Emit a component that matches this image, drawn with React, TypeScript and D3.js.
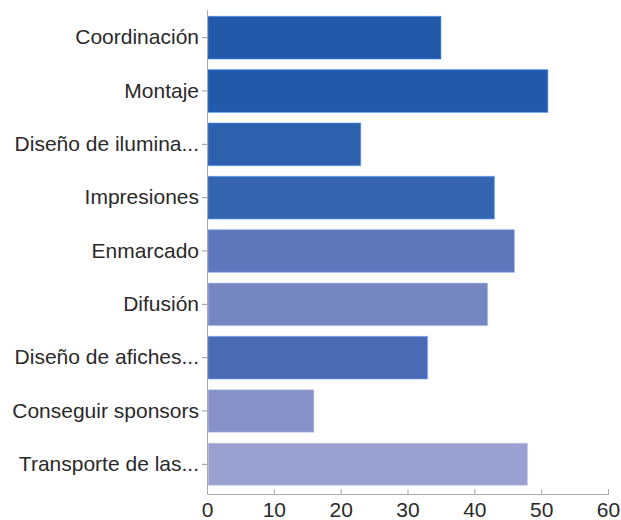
import React, { useRef, useEffect } from 'react';
import * as d3 from 'd3';

const categories = [
  'Coordinación',
  'Montaje',
  'Diseño de ilumina...',
  'Impresiones',
  'Enmarcado',
  'Difusión',
  'Diseño de afiches...',
  'Conseguir sponsors',
  'Transporte de las...',
];
const values = [35, 51, 23, 43, 46, 42, 33, 16, 48];
const barColors = [
  '#2359a8',
  '#2259a8',
  '#2e61ad',
  '#3565b0',
  '#5e77bb',
  '#7686c1',
  '#4a6bb3',
  '#8791c7',
  '#9aa1d1',
];
const xTicks = [0, 10, 20, 30, 40, 50, 60];

const App: React.FC = () => {
  const ref = useRef<SVGSVGElement | null>(null);

  useEffect(() => {
    if (!ref.current) return;
    const svg = d3.select(ref.current);
    svg.selectAll('*').remove();

    const width = 621;
    const height = 520;
    const left = 207;
    const right = 608;
    const axisY = 494;
    const font = '"Liberation Sans", Arial, Helvetica, sans-serif';

    const x = d3.scaleLinear().domain([0, 60]).range([left, right]);
    const y = d3.scaleBand<string>()
      .domain(categories)
      .range([11, 491])
      .paddingInner(0.2)
      .paddingOuter(0.1);

    // Bars
    svg.append('g')
      .selectAll('rect')
      .data(categories)
      .enter()
      .append('rect')
      .attr('x', x(0) + 1)
      .attr('y', d => y(d) as number)
      .attr('width', (d, i) => x(values[i]) - x(0) - 1)
      .attr('height', y.bandwidth())
      .attr('fill', (d, i) => barColors[i])
      .attr('stroke', (d, i) => d3.color(barColors[i])!.brighter(1.2).formatHex())
      .attr('stroke-opacity', 0.6)
      .attr('stroke-width', 1);

    // Y axis
    const gy = svg.append('g')
      .attr('transform', `translate(${left},0)`)
      .call(d3.axisLeft(y).tickSize(5).tickSizeOuter(0).tickPadding(3));
    gy.select('.domain').remove();
    gy.selectAll('.tick line').attr('stroke', '#999');
    gy.selectAll('.tick text')
      .attr('fill', '#2a2a2a')
      .style('font-family', font)
      .style('font-size', '21px');

    svg.append('line')
      .attr('x1', left + 0.5)
      .attr('x2', left + 0.5)
      .attr('y1', 10)
      .attr('y2', axisY)
      .attr('stroke', '#aaa');

    // X axis
    const gx = svg.append('g')
      .attr('transform', `translate(0,${axisY})`)
      .call(d3.axisBottom(x).tickValues(xTicks).tickSize(-5).tickPadding(8));
    gx.select('.domain').attr('stroke', '#aaa');
    gx.selectAll('.tick line').attr('stroke', '#aaa');
    gx.selectAll('.tick text')
      .attr('fill', '#2a2a2a')
      .style('font-family', font)
      .style('font-size', '21px');

    svg.attr('width', width).attr('height', height);
  }, []);

  return (
    <div style={{ position: 'absolute', left: 0, top: 0, background: '#fff' }}>
      <svg ref={ref} width={621} height={520} />
    </div>
  );
};

export default App;
